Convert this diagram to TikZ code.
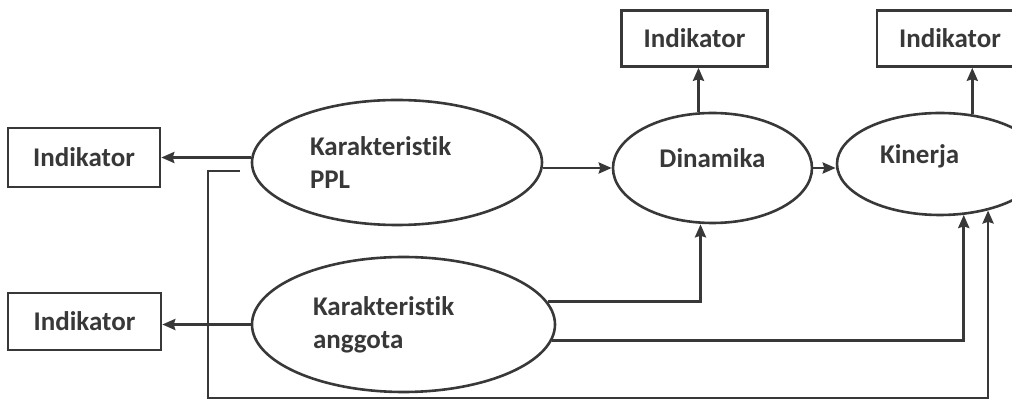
\documentclass[tikz,border=0pt]{standalone}
\usepackage{fontspec}
\setmainfont{Carlito}[Ligatures=CommonOff]
\usetikzlibrary{shapes.geometric, arrows, arrows.meta}
\definecolor{ink}{gray}{0.22}
\tikzstyle{arrow} = [line width=1.4pt,draw=ink,->,>={Stealth[length=6.5pt,width=5.5pt,inset=0.8pt]}]
\tikzstyle{indbox} = [rectangle,draw=ink,line width=1.3pt,minimum width=73pt,minimum height=28pt,inner sep=0pt]
\tikzstyle{varell} = [ellipse,draw=ink,line width=1.3pt,inner sep=0pt]

\begin{document}
\begin{tikzpicture}[x=0.5pt,y=-0.5pt,font=\fontsize{13.5}{16.5}\selectfont\bfseries,text=ink]
\useasboundingbox (0,0) rectangle (1012,405);

\node[indbox,minimum width=76pt,minimum height=29.5pt] (ind1) at (84,157.5) {Indikator};
\node[indbox,minimum width=76.5pt,minimum height=28.5pt] (ind2) at (84.5,321.5) {Indikator};
\node[indbox] (ind3) at (694.5,38.5) {Indikator};
\node[indbox] (ind4) at (950,38.5) {Indikator};

\node[varell,minimum width=145pt,minimum height=62.5pt,text width=87pt,align=left] (ppl) at (397,162.5) {Karakteristik\\PPL};
\node[varell,minimum width=151.5pt,minimum height=67.5pt,text width=90.5pt,align=left] (ang) at (403.5,324.5) {Karakteristik\\anggota};
\node[varell,minimum width=99.5pt,minimum height=55pt,text depth=10pt] (din) at (712.5,168) {Dinamika};
\node[varell,minimum width=103pt,minimum height=51pt,text width=60pt,align=left,text depth=10pt] (kin) at (940,164) {Kinerja};

%free ends of the feedback line
\coordinate (pplout) at (240,171);
\coordinate (loop) at (208,398);

\draw[arrow] (ppl.west |- ind1.east) -- (ind1.east);
\draw[arrow] (ang.west) -- (ind2.east |- ang.west);
\draw[arrow] (ppl.east |- din.west) -- (din.west);
\draw[arrow] (din.east) -- (kin.west |- din.east);
\draw[arrow] ([xshift=-7pt]din.north) -- ([xshift=-7pt]din.north |- ind3.south);
\draw[arrow] (kin.57) -- (kin.57 |- ind4.south);
\draw[arrow] (ang.9) -| ([xshift=-6pt]din.south);
\draw[arrow] (ang.-6) -| (kin.-65);
\draw[arrow] (pplout) -| (loop) -| (kin.-44);

\end{tikzpicture}
\end{document}
